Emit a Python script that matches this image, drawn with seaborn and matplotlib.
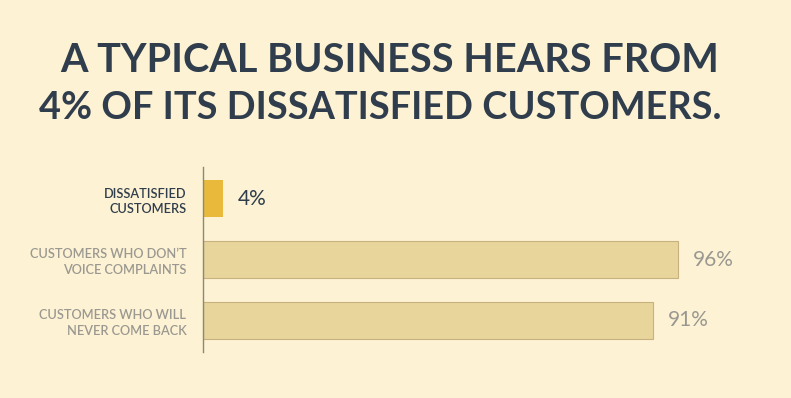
import matplotlib
matplotlib.use("Agg")
import matplotlib.pyplot as plt
import seaborn as sns
import pandas as pd

# chart data
categories = ["DISSATISFIED\nCUSTOMERS", "CUSTOMERS WHO DON\u2019T\nVOICE COMPLAINTS", "CUSTOMERS WHO WILL\nNEVER COME BACK"]
values = [4, 96, 91]
value_labels = ["4%", "96%", "91%"]
title_lines = ["A TYPICAL BUSINESS HEARS FROM", "4% OF ITS DISSATISFIED CUSTOMERS."]

bg = "#FDF2D3"
dark = "#2F3D4C"
grey = "#9A9891"
bar_colors = ["#E8B93B", "#E7D59C", "#E7D59C"]
text_colors = [dark, grey, grey]

sns.set_theme(style="white")
plt.rcParams["font.family"] = ["Lato", "DejaVu Sans"]

df = pd.DataFrame({"cat": categories, "val": values})

fig = plt.figure(figsize=(7.91, 3.98), dpi=100, facecolor=bg)
ax = fig.add_axes([203 / 791, 1 - 352 / 398, 577 / 791, 185 / 398])
ax.set_facecolor(bg)

sns.barplot(data=df, y="cat", x="val", hue="cat", palette=bar_colors,
            legend=False, orient="h", width=0.6, ax=ax, saturation=1)

for i, p in enumerate(ax.patches):
    if i > 0:
        p.set_edgecolor("#C7B27F")
        p.set_linewidth(0.8)
    else:
        p.set_linewidth(0)

ax.set_xlim(0, 577 / 4.95)
ax.set_ylim(2.52, -0.52)
ax.set_xlabel("")
ax.set_ylabel("")
ax.set_xticks([])
ax.set_yticks(range(len(categories)))
ax.set_yticklabels(categories, fontsize=9.2, fontweight="semibold", linespacing=1.35)
for lbl, c in zip(ax.get_yticklabels(), text_colors):
    lbl.set_color(c)
ax.tick_params(axis="y", length=0, pad=12)

for s in ["top", "right", "bottom"]:
    ax.spines[s].set_visible(False)
ax.spines["left"].set_color("#8C877A")
ax.spines["left"].set_linewidth(1)

for i, (v, t) in enumerate(zip(values, value_labels)):
    ax.text(v + 3, i, t, va="center", ha="left", fontsize=15, color=text_colors[i])

fig.text(390 / 791, 1 - 61 / 398, title_lines[0], ha="center", va="center",
         fontsize=28.5, fontweight="bold", color=dark)
fig.text(380 / 791, 1 - 108 / 398, title_lines[1], ha="center", va="center",
         fontsize=27.3, fontweight="bold", color=dark)

fig.savefig("out.png", dpi=100, facecolor=bg)
